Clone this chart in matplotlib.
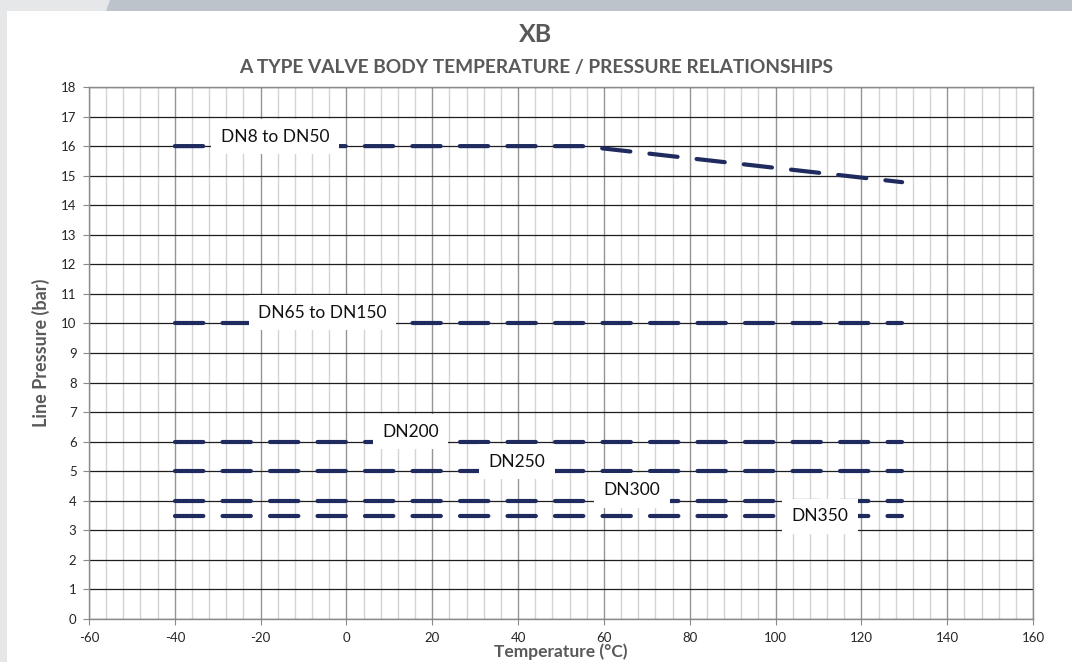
import matplotlib
matplotlib.use("Agg")
import matplotlib.pyplot as plt
from matplotlib.patches import Polygon, Rectangle
from matplotlib.ticker import MultipleLocator

plt.rcParams['font.family'] = ['Lato', 'DejaVu Sans']
plt.rcParams['axes.unicode_minus'] = False

# ---- data ----
series_names = ["DN8 to DN50", "DN65 to DN150", "DN200", "DN250", "DN300", "DN350"]
temp_dn8_50 = [-40, 55, 129.5]
pres_dn8_50 = [16, 16, 14.78]
temp_dn65_150 = [-40, 129.5]
pres_dn65_150 = [10, 10]
temp_dn200 = [-40, 129.5]
pres_dn200 = [6, 6]
temp_dn250 = [-40, 129.5]
pres_dn250 = [5, 5]
temp_dn300 = [-40, 129.5]
pres_dn300 = [4, 4]
temp_dn350 = [-40, 129.5]
pres_dn350 = [3.5, 3.5]

x_ticks = list(range(-60, 161, 20))
y_ticks = list(range(0, 19, 1))

series = [
    (temp_dn8_50, pres_dn8_50),
    (temp_dn65_150, pres_dn65_150),
    (temp_dn200, pres_dn200),
    (temp_dn250, pres_dn250),
    (temp_dn300, pres_dn300),
    (temp_dn350, pres_dn350),
]
# label anchor (x, y) in data coordinates
label_pos = [(-16.7, 16.31), (-5.6, 10.36), (14.9, 6.34), (39.7, 5.32), (66.5, 4.36), (110.4, 3.48)]

# ---- figure ----
W, H = 1072, 662
fig = plt.figure(figsize=(W / 100, H / 100), dpi=100)
fig.patch.set_facecolor('#e6e7e9')

def fx(px):
    return px / W

def fy(py):
    return 1 - py / H

# white panel
fig.patches.append(Rectangle((fx(7), 0), 1 - fx(7), fy(11), transform=fig.transFigure,
                             facecolor='white', edgecolor='none', zorder=-10))
# top bar
fig.patches.append(Polygon([(fx(110), 1), (1, 1), (1, fy(11)), (fx(106), fy(11))],
                           closed=True, transform=fig.transFigure,
                           facecolor='#bcc3cb', edgecolor='none', zorder=-10))

ax = fig.add_axes([fx(89), fy(619), fx(1033) - fx(89), fy(87) - fy(619)])
ax.set_zorder(1)
ax.set_xlim(-60, 160)
ax.set_ylim(0, 18)
ax.set_xticks(x_ticks)
ax.set_yticks(y_ticks)
ax.xaxis.set_minor_locator(MultipleLocator(4))

ax.grid(which='minor', axis='x', color='#d4d4d4', lw=1.0, zorder=0)
ax.grid(which='major', axis='x', color='#959595', lw=1.0, zorder=0.5)
ax.grid(which='major', axis='y', color='#1e1e1e', lw=0.9, zorder=0.6)
ax.set_axisbelow(True)

for s in ax.spines.values():
    s.set_color('#8a8a8a')
    s.set_linewidth(1.0)

ax.tick_params(axis='both', which='major', length=4, color='#8a8a8a', labelsize=9.5,
               labelcolor='#262626')
ax.tick_params(axis='x', which='minor', length=0)
ax.tick_params(axis='x', pad=5)
ax.tick_params(axis='y', pad=5)

navy = '#1f2b5e'
lw = 3.0
for (xs, ys) in series:
    ax.plot(xs, ys, color=navy, lw=lw, linestyle=(0, (6.8, 4.6)),
            dash_capstyle='round', solid_capstyle='round', zorder=3)

for name, (lx, ly) in zip(series_names, label_pos):
    ax.text(lx, ly, name, ha='center', va='center', fontsize=12.5, color='#111111',
            zorder=5, bbox=dict(boxstyle='square,pad=0.55', facecolor='white', edgecolor='none'))

ax.set_xlabel('Temperature (°C)', fontsize=12.5, fontweight='bold', color='#595959', labelpad=0)
ax.set_ylabel('Line Pressure (bar)', fontsize=13, fontweight='bold', color='#595959', labelpad=8)

fig.text(0.5, fy(34.5), 'XB', ha='center', va='center', fontsize=18, fontweight='bold', color='#595959')
fig.text(0.5, fy(67), 'A TYPE VALVE BODY TEMPERATURE / PRESSURE RELATIONSHIPS', ha='center',
         va='center', fontsize=13.8, fontweight='bold', color='#595959')

fig.savefig('out.png', dpi=100, facecolor=fig.get_facecolor())
